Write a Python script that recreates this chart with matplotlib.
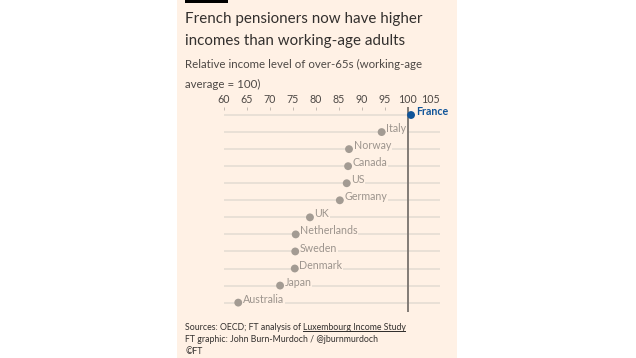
import matplotlib.pyplot as plt
from matplotlib.patches import Rectangle

countries = ['France', 'Italy', 'Norway', 'Canada', 'US', 'Germany', 'UK',
             'Netherlands', 'Sweden', 'Denmark', 'Japan', 'Australia']
income = [100.7, 94.3, 87.2, 87.0, 86.7, 85.2, 78.7, 75.6, 75.5, 75.4, 72.2, 63.1]
ticks = [60, 65, 70, 75, 80, 85, 90, 95, 100, 105]

W, H = 636, 358
bg = '#fff1e5'
grey = '#a39b93'
line_c = '#e3dbd2'
blue = '#0f5499'
txt = '#33302e'

plt.rcParams['font.family'] = ['Lato', 'DejaVu Sans']

fig = plt.figure(figsize=(W / 100, H / 100), dpi=100)
fig.patch.set_facecolor('white')
fig.patches.append(Rectangle((177 / W, 0), (457 - 177) / W, 1, transform=fig.transFigure,
                             facecolor=bg, edgecolor='none', zorder=-2))
fig.patches.append(Rectangle((185 / W, 1 - 2.5 / H), 43 / W, 2.5 / H, transform=fig.transFigure,
                             facecolor='#000000', edgecolor='none', zorder=-1))

fig.text(185 / W, 1 - 19 / H, 'French pensioners now have higher', fontsize=10.9,
         color=txt, va='center', ha='left')
fig.text(185 / W, 1 - 41 / H, 'incomes than working-age adults', fontsize=10.9,
         color=txt, va='center', ha='left')
fig.text(185 / W, 1 - 64 / H, 'Relative income level of over-65s (working-age', fontsize=8.3,
         color='#4d4845', va='center', ha='left')
fig.text(185 / W, 1 - 84 / H, 'average = 100)', fontsize=8.3,
         color='#4d4845', va='center', ha='left')

ax = fig.add_axes([224 / W, 1 - 312 / H, (440 - 224) / W, (312 - 107) / H])
ax.set_facecolor('none')
rows = list(range(len(countries)))
ax.set_xlim(60, 107)
ax.set_ylim(11.55, -0.47)

for r in rows:
    ax.axhline(r, color=line_c, lw=1.1, zorder=1)
ax.axvline(100, color='#827b75', lw=1.4, zorder=2)

colors = [blue] + [grey] * (len(countries) - 1)
ax.scatter(income, rows, s=32, c=colors, zorder=4, linewidths=0)

for c, v, r, col in zip(countries, income, rows, colors):
    ax.text(v + 1.0, r - 0.2, c, fontsize=7.7, color=(blue if c == 'France' else '#9c948d'),
            fontweight=('bold' if c == 'France' else 'normal'), va='center', ha='left',
            zorder=3, bbox=dict(facecolor=bg, edgecolor='none', pad=0.4))

ax.xaxis.tick_top()
ax.set_xticks(ticks)
ax.set_xticklabels([str(t) for t in ticks])
ax.tick_params(axis='x', length=2.5, width=0.6, color='#b8b0a8', labelsize=7.7,
               labelcolor='#4d4845', pad=1.5, direction='in')
ax.set_yticks([])
for s in ax.spines.values():
    s.set_visible(False)

src = fig.text(185 / W, 1 - 327 / H, 'Sources: OECD; FT analysis of ', fontsize=6.3,
               color=txt, va='center', ha='left')
renderer = fig.canvas.get_renderer()
bb = src.get_window_extent(renderer)
link = fig.text(bb.x1 / W, 1 - 327 / H, 'Luxembourg Income Study', fontsize=6.3,
                color=txt, va='center', ha='left')
lb = link.get_window_extent(renderer)
fig.patches.append(Rectangle((lb.x0 / W, lb.y0 / H), (lb.x1 - lb.x0) / W, 0.6 / H,
                             transform=fig.transFigure, facecolor=txt, edgecolor='none'))
fig.text(185 / W, 1 - 340 / H, 'FT graphic: John Burn-Murdoch / @jburnmurdoch', fontsize=6.3,
         color=txt, va='center', ha='left')
fig.text(185 / W, 1 - 352 / H, '\u00a9FT', fontsize=6.3, color=txt, va='center', ha='left')

fig.savefig('out.png', dpi=100, facecolor='white')
